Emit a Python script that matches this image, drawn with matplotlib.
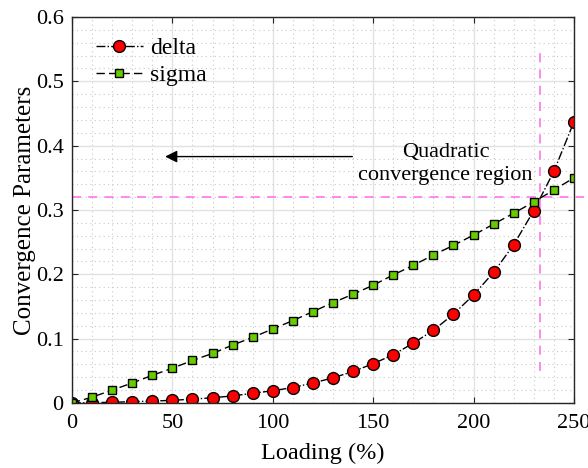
import numpy as np
import matplotlib
matplotlib.use("Agg")
import matplotlib.pyplot as plt
from matplotlib.ticker import MultipleLocator, FuncFormatter

# Data
loading = [0, 10, 20, 30, 40, 50, 60, 70, 80, 90, 100, 110, 120, 130,
           140, 150, 160, 170, 180, 190, 200, 210, 220, 230, 240, 250]
delta = [0.0, 0.0005, 0.001, 0.002, 0.003, 0.004, 0.006, 0.008, 0.011,
         0.015, 0.019, 0.024, 0.031, 0.039, 0.049, 0.061, 0.075, 0.093,
         0.113, 0.138, 0.168, 0.203, 0.246, 0.299, 0.36, 0.437]
sigma = [0.0, 0.009, 0.02, 0.031, 0.043, 0.054, 0.066, 0.077, 0.09,
         0.102, 0.115, 0.128, 0.142, 0.156, 0.169, 0.183, 0.199, 0.214,
         0.23, 0.245, 0.261, 0.278, 0.295, 0.3125, 0.331, 0.35]

h_level = 0.32      # horizontal marker line
v_level = 233       # vertical marker line

plt.rcParams['font.family'] = ['Liberation Serif', 'DejaVu Serif']

fig = plt.figure(figsize=(5.88, 4.68), dpi=100)
ax = fig.add_axes([0.1224, 0.139, 0.8537, 0.8247])

ax.plot(loading, delta, '-.', color='black', lw=1,
        marker='o', ms=8.5, mfc='red', mec='black', mew=1, label='delta')
ax.plot(loading, sigma, '--', color='black', lw=1, dashes=(6, 3),
        marker='s', ms=6, mfc='#66cc00', mec='black', mew=1, label='sigma')

# convergence region guides
ax.plot([0, 255], [h_level, h_level], '--', color='#ff7ff0', lw=1.3,
        dashes=(5, 4), clip_on=False, zorder=1)
ax.plot([v_level, v_level], [0.05, 0.552], '--', color='#ff7ff0', lw=1.3,
        dashes=(5, 4), zorder=1)

ax.annotate('', xy=(45, 0.383), xytext=(141, 0.383),
            arrowprops=dict(arrowstyle='-|>', color='black', lw=1,
                            mutation_scale=18))
ax.text(186, 0.372, 'Quadratic\nconvergence region', ha='center',
        va='center', fontsize=16, linespacing=1.3)

ax.set_xlim(0, 250)
ax.set_ylim(0, 0.6)
ax.xaxis.set_major_locator(MultipleLocator(50))
ax.xaxis.set_minor_locator(MultipleLocator(10))
ax.yaxis.set_major_locator(MultipleLocator(0.1))
ax.yaxis.set_minor_locator(MultipleLocator(0.02))
ax.yaxis.set_major_formatter(FuncFormatter(lambda v, p: '%g' % round(v, 2)))

ax.grid(which='major', color='#e2e2e2', lw=1, ls='-')
ax.grid(which='minor', color='#c8c8c8', lw=0.8, ls=(0, (1, 3)))
ax.set_axisbelow(True)

ax.tick_params(axis='x', which='major', pad=8)
ax.tick_params(axis='y', which='major', pad=6)
ax.tick_params(which='major', direction='in', top=True, right=True,
               labelsize=16, length=4, color='#262626')
ax.tick_params(which='minor', length=0)
for s in ax.spines.values():
    s.set_color('#262626')
    s.set_linewidth(1)

ax.set_xlabel('Loading (%)', fontsize=17.5, labelpad=7)
ax.set_ylabel('Convergence Parameters', fontsize=18, labelpad=0)

ax.legend(loc='upper left', fontsize=17, frameon=False, handlelength=2.0,
          handletextpad=0.3, labelspacing=0.25, borderaxespad=0.3,
          bbox_to_anchor=(0.014, 0.99))

fig.savefig('out.png', dpi=100)
